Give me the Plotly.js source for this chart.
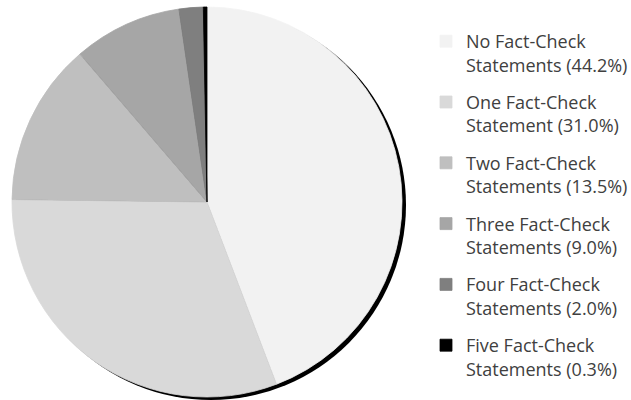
<!DOCTYPE html>
<html>
<head>
<meta charset="utf-8">
<script src="https://cdn.plot.ly/plotly-3.0.1.min.js"></script>
<style>html,body{margin:0;padding:0;background:#fff;}#chart{width:631px;height:400px;}</style>
</head>
<body>
<div id="chart"></div>
<script>
// Data
var categories = [
  "No Fact-Check<br>Statements",
  "One Fact-Check<br>Statement",
  "Two Fact-Check<br>Statements",
  "Three Fact-Check<br>Statements",
  "Four Fact-Check<br>Statements",
  "Five Fact-Check<br>Statements"
];
var shares = [44.2, 31.0, 13.5, 9.0, 2.0, 0.3];
var sliceColors = ["#f2f2f2", "#d9d9d9", "#bfbfbf", "#a6a6a6", "#7f7f7f", "#000000"];

var labels = categories.map(function (c, i) {
  return c + " (" + shares[i].toFixed(1) + "%)";
});

var W = 631, H = 400;
var cx = 207, cy = 202, r = 195;
var shadowDx = 4, shadowDy = 3;

function dom(x0, y0) {
  return {
    x: [(x0 - r) / W, (x0 + r) / W],
    y: [1 - (y0 + r) / H, 1 - (y0 - r) / H]
  };
}

var shadow = {
  type: "pie",
  labels: ["shadow"],
  values: [1],
  marker: { colors: ["#000000"], line: { width: 0 } },
  domain: dom(cx + shadowDx, cy + shadowDy),
  textinfo: "none",
  hoverinfo: "skip",
  showlegend: false,
  sort: false
};

var main = {
  type: "pie",
  labels: labels,
  values: shares,
  marker: { colors: sliceColors, line: { color: sliceColors, width: 0.8 } },
  domain: dom(cx, cy),
  sort: false,
  direction: "clockwise",
  rotation: 0,
  textinfo: "none",
  hoverinfo: "label"
};

// invisible helper entry so each slice is its own legend group (enables tracegroupgap)
var pad = {
  type: "pie",
  labels: [" "],
  values: [1],
  legendgroup: "pad",
  marker: { colors: ["rgba(0,0,0,0)"], line: { width: 0 } },
  domain: { x: [0.999, 1], y: [0, 0.001] },
  textinfo: "none",
  hoverinfo: "skip",
  sort: false
};

var layout = {
  width: W,
  height: H,
  margin: { l: 0, r: 0, t: 0, b: 0, autoexpand: false },
  paper_bgcolor: "#ffffff",
  plot_bgcolor: "#ffffff",
  showlegend: true,
  legend: {
    x: 426 / W,
    xanchor: "left",
    y: 1 - 23 / H,
    yanchor: "top",
    maxheight: 700,
    traceorder: "grouped",
    tracegroupgap: 11,
    valign: "top",
    bgcolor: "rgba(0,0,0,0)",
    font: { family: "Open Sans", size: 18, color: "#404040" }
  }
};

Plotly.newPlot("chart", [shadow, main, pad], layout, { staticPlot: true, displayModeBar: false });
</script>
</body>
</html>
